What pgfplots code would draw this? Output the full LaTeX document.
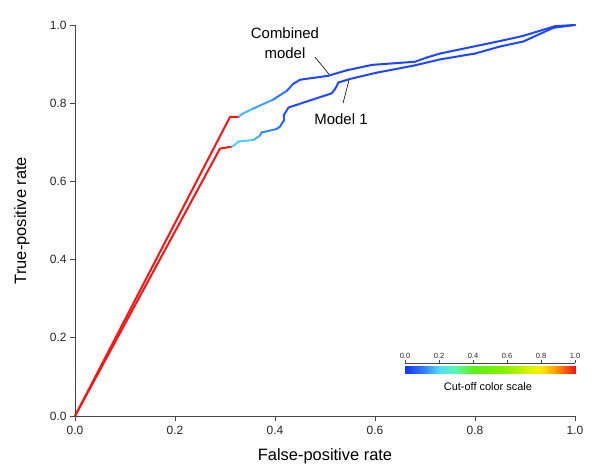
\documentclass[border=0pt]{standalone}
\usepackage{fontspec}
\setmainfont{Liberation Sans}
\usepackage{pgfplots}
\pgfplotsset{compat=1.18}
\definecolor{axgray}{RGB}{70,70,70}
\definecolor{rocred}{RGB}{250,20,20}
\pgfplotsset{colormap={cutoff}{rgb255(0)=(25,50,255) rgb255(0.1)=(45,120,255) rgb255(0.2)=(80,220,255) rgb255(0.3)=(90,250,170) rgb255(0.4)=(90,240,20) rgb255(0.6)=(140,240,0) rgb255(0.75)=(230,245,0) rgb255(0.8)=(255,235,0) rgb255(0.9)=(255,140,0) rgb255(1)=(250,20,20)}}
\begin{document}
\begin{tikzpicture}
\useasboundingbox (-75bp,-60bp) rectangle (525bp,416bp);
\begin{axis}[
  at={(0,0)}, anchor=south west,
  scale only axis, width=500bp, height=391bp,
  xmin=0, xmax=1, ymin=0, ymax=1,
  axis x line*=bottom, axis y line*=left,
  axis line style={axgray, line width=0.8bp},
  tick style={axgray, line width=0.8bp},
  tick align=outside, major tick length=5bp,
  xtick={0,0.2,0.4,0.6,0.8,1}, ytick={0,0.2,0.4,0.6,0.8,1},
  xticklabel style={font=\fontsize{12}{14}\selectfont, text=black!85, yshift=-2bp},
  yticklabel style={font=\fontsize{12}{14}\selectfont, text=black!85},
  /pgf/number format/.cd, fixed, fixed zerofill, precision=1, assume math mode=true, /pgfplots/.cd,
  xlabel={False-positive rate},
  ylabel={True-positive rate},
  xlabel style={font=\fontsize{16.5}{18}\selectfont, at={(axis description cs:0.5,-0.104)}, anchor=center},
  ylabel style={font=\fontsize{16.5}{18}\selectfont, at={(axis description cs:-0.106,0.5)}, anchor=center},
  point meta min=0, point meta max=1,
  clip=false,
]
% red (high cut-off) parts
\addplot[rocred, line width=2bp, line join=round] coordinates {(0,0) (0.31,0.765) (0.328,0.765)};
\addplot[rocred, line width=2bp, line join=round] coordinates {(0,0) (0.29,0.684) (0.314,0.689)};
% Combined model
\addplot[mesh, line width=2bp, line join=round, line cap=round, point meta=explicit] table[meta=c] {
x y c
0.328 0.765 0.17
0.333 0.772 0.17
0.356 0.786 0.16
0.396 0.809 0.12
0.424 0.832 0.08
0.436 0.849 0.05
0.450 0.860 0.03
0.506 0.870 0.03
0.543 0.884 0.03
0.594 0.898 0.03
0.680 0.906 0.03
0.704 0.917 0.03
0.730 0.927 0.03
0.850 0.959 0.03
0.896 0.972 0.03
0.960 0.997 0.03
1.000 1.000 0.03
};
% Model 1
\addplot[mesh, line width=2bp, line join=round, line cap=round, point meta=explicit] table[meta=c] {
x y c
0.314 0.689 0.19
0.317 0.691 0.19
0.327 0.702 0.19
0.357 0.706 0.18
0.370 0.717 0.14
0.373 0.725 0.13
0.403 0.734 0.10
0.410 0.740 0.08
0.417 0.755 0.06
0.417 0.768 0.05
0.427 0.789 0.04
0.513 0.825 0.03
0.520 0.836 0.03
0.527 0.853 0.03
0.550 0.862 0.03
0.603 0.878 0.03
0.677 0.896 0.03
0.730 0.912 0.03
0.800 0.927 0.03
0.850 0.945 0.03
0.897 0.958 0.03
0.957 0.993 0.03
1.000 1.000 0.03
};
\draw[black, line width=0.6bp] (axis cs:0.48,0.918) -- (axis cs:0.508,0.874);
\draw[black, line width=0.6bp] (axis cs:0.536,0.80) -- (axis cs:0.548,0.859);
\node[font=\fontsize{15}{20}\selectfont, align=center] at (axis cs:0.42,0.954) {Combined\\model};
\node[font=\fontsize{15}{18}\selectfont] at (axis cs:0.532,0.76) {Model 1};
\end{axis}
\begin{axis}[
  at={(330bp,42bp)}, anchor=south west,
  scale only axis, width=170bp, height=11bp,
  xmin=0, xmax=1, ymin=0, ymax=1,
  axis x line*=top, axis y line=none,
  axis line style={axgray, line width=0.6bp},
  tick style={axgray, line width=0.6bp},
  tick align=outside, major tick length=3bp,
  xtick={0,0.2,0.4,0.6,0.8,1},
  xticklabel style={font=\fontsize{7.5}{9}\selectfont, text=black!85, inner sep=1.5bp},
  /pgf/number format/.cd, fixed, fixed zerofill, precision=1, assume math mode=true, /pgfplots/.cd,
  point meta min=0, point meta max=1,
  clip=false,
]
\addplot[surf, shader=interp, mesh/rows=2, point meta=x] coordinates {
(0,0) (0.1,0) (0.2,0) (0.3,0) (0.4,0) (0.5,0) (0.6,0) (0.7,0) (0.75,0) (0.8,0) (0.9,0) (1,0)
(0,0.73) (0.1,0.73) (0.2,0.73) (0.3,0.73) (0.4,0.73) (0.5,0.73) (0.6,0.73) (0.7,0.73) (0.75,0.73) (0.8,0.73) (0.9,0.73) (1,0.73)
};
\node[font=\fontsize{11}{13}\selectfont, anchor=center] at (axis cs:0.488,-1.1) {Cut-off color scale};
\end{axis}
\end{tikzpicture}
\end{document}
